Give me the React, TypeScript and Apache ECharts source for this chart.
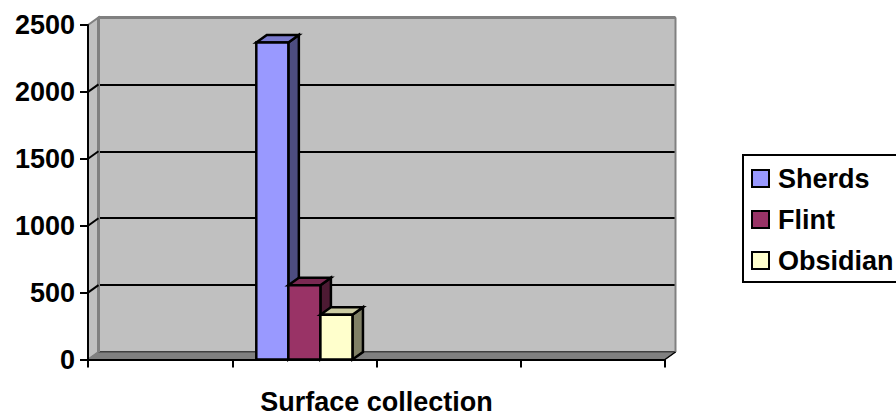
import React, { useEffect, useRef } from "react";
import * as echarts from "echarts";

const categories = ["", "Surface collection", "", ""];
const axisTitle = "Surface collection";
const sherds = [null, 2370, null, null];
const flint = [null, 555, null, null];
const obsidian = [null, 335, null, null];
const gridValues = [500, 1000, 1500, 2000];
const seriesNames = ["Sherds", "Flint", "Obsidian"];

const FONT = "'Liberation Sans', Arial, sans-serif";
const DX = 10.5;
const DY = -7.5;
const FRONT = { left: 88, top: 25, width: 577, height: 334.5 };

const palette = [
  { front: "#9999ff", side: "#4d4d80", top: "#7a7acc" },
  { front: "#993366", side: "#4d1a33", top: "#7a2952" },
  { front: "#ffffcc", side: "#808066", top: "#cccca3" },
];

function bar3d(index: number) {
  return (params: any, api: any) => {
    const value = api.value(1);
    if (value == null || isNaN(value)) return null;
    const base = api.coord([api.value(0), 0]);
    const tip = api.coord([api.value(0), value]);
    const w = api.size([1, 0])[0] / 4.5;
    const x0 = base[0] - 1.5 * w + index * w;
    const x1 = x0 + w;
    const yb = base[1];
    const yt = tip[1];
    const c = palette[index];
    const stroke = { stroke: "#000", lineWidth: 2.5, lineJoin: "miter" };
    return {
      type: "group",
      children: [
        { type: "polygon", shape: { points: [[x1, yb], [x1 + DX, yb + DY], [x1 + DX, yt + DY], [x1, yt]] }, style: { fill: c.side, ...stroke } },
        { type: "polygon", shape: { points: [[x0, yt], [x0 + DX, yt + DY], [x1 + DX, yt + DY], [x1, yt]] }, style: { fill: c.top, ...stroke } },
        { type: "rect", shape: { x: x0, y: yt, width: w, height: yb - yt }, style: { fill: c.front, ...stroke } },
      ],
    };
  };
}

function chamber(params: any, api: any) {
  const cs = params.coordSys;
  const l = cs.x;
  const r = cs.x + cs.width;
  const t = cs.y;
  const b = cs.y + cs.height;
  const lines = gridValues.map((v) => {
    const y = api.coord([0, v])[1];
    return {
      type: "line",
      shape: { x1: l, y1: y, x2: l + DX, y2: y + DY },
      style: { stroke: "#000", lineWidth: 2 },
    };
  });
  return {
    type: "group",
    children: [
      { type: "polygon", shape: { points: [[l, t], [l + DX, t + DY], [l + DX, b + DY], [l, b]] }, style: { fill: "#c0c0c0", stroke: "#808080", lineWidth: 2 } },
      { type: "polygon", shape: { points: [[l, b], [l + DX, b + DY], [r + DX, b + DY], [r, b]] }, style: { fill: "#808080", stroke: "#808080", lineWidth: 1 } },
      { type: "line", shape: { x1: l + DX, y1: b + DY, x2: r + DX, y2: b + DY }, style: { stroke: "#404040", lineWidth: 1 } },
      { type: "line", shape: { x1: l + DX, y1: t + DY, x2: r + DX, y2: t + DY }, style: { stroke: "#808080", lineWidth: 3 } },
      { type: "line", shape: { x1: l + DX, y1: t + DY, x2: l + DX, y2: b + DY }, style: { stroke: "#808080", lineWidth: 3 } },
      { type: "line", shape: { x1: r + DX, y1: t + DY, x2: r + DX, y2: b + DY }, style: { stroke: "#808080", lineWidth: 2 } },
      { type: "line", shape: { x1: r + DX, y1: b + DY, x2: r, y2: b }, style: { stroke: "#000", lineWidth: 1.5 } },
      ...lines,
    ],
  };
}

export default function App() {
  const ref = useRef<HTMLDivElement>(null);
  useEffect(() => {
    const chart = echarts.init(ref.current!, null, { renderer: "svg" });
    const seriesData = [sherds, flint, obsidian];
    chart.setOption({
      animation: false,
      backgroundColor: "#fff",
      textStyle: { fontFamily: FONT },
      legend: {
        left: 743,
        top: 155,
        orient: "vertical",
        width: 170,
        padding: [10, 30, 8, 8],
        itemWidth: 17,
        itemHeight: 17,
        itemGap: 14,
        borderColor: "#000",
        borderWidth: 2,
        backgroundColor: "#fff",
        textStyle: { fontFamily: FONT, fontWeight: "bold", fontSize: 27, color: "#000", padding: [0, 0, 0, 4] },
        data: seriesNames.map((name, i) => ({
          name,
          icon: "rect",
          itemStyle: { color: palette[i].front, borderColor: "#000", borderWidth: 2 },
        })),
      },
      grid: [
        { ...FRONT, outerBoundsMode: "none" },
        {
          left: FRONT.left + DX,
          top: FRONT.top + DY,
          width: FRONT.width,
          height: FRONT.height,
          show: true,
          backgroundColor: "#c0c0c0",
          borderWidth: 0,
          outerBoundsMode: "none",
        },
      ],
      xAxis: [
        {
          type: "category",
          gridIndex: 0,
          data: categories,
          name: axisTitle,
          nameLocation: "middle",
          nameGap: 31,
          nameTextStyle: { fontFamily: FONT, fontWeight: "bold", fontSize: 27, lineHeight: 22, color: "#000" },
          axisLine: { show: true, lineStyle: { color: "#000", width: 2 } },
          axisTick: { show: true, length: 8, lineStyle: { color: "#000", width: 2 } },
          axisLabel: { show: false },
          z: 5,
        },
        { type: "category", gridIndex: 1, data: categories, show: false },
      ],
      yAxis: [
        {
          type: "value",
          gridIndex: 0,
          min: 0,
          max: 2500,
          interval: 500,
          axisLine: { show: true, lineStyle: { color: "#000", width: 2 } },
          axisTick: { show: true, length: 8, lineStyle: { color: "#000", width: 2 } },
          axisLabel: { fontFamily: FONT, fontWeight: "bold", fontSize: 27, color: "#000", margin: 13, formatter: (v: number) => String(v) },
          splitLine: { show: false },
          z: 5,
        },
        {
          type: "value",
          gridIndex: 1,
          min: 0,
          max: 2500,
          interval: 500,
          axisLine: { show: false },
          axisTick: { show: false },
          axisLabel: { show: false },
          splitLine: { show: true, lineStyle: { color: "#000", width: 2, type: "solid" } },
        },
      ],
      series: [
        {
          type: "custom",
          name: "chamber",
          xAxisIndex: 0,
          yAxisIndex: 0,
          data: [[0, 0]],
          silent: true,
          clip: false,
          z: 1,
          renderItem: chamber,
        },
        ...seriesNames.map((name, i) => ({
          type: "custom",
          name,
          xAxisIndex: 0,
          yAxisIndex: 0,
          clip: false,
          z: 3 + i,
          itemStyle: { color: palette[i].front, borderColor: "#000", borderWidth: 2 },
          encode: { x: 0, y: 1 },
          data: seriesData[i].map((v, k) => [k, v]),
          renderItem: bar3d(i),
        })),
      ],
    });
    return () => chart.dispose();
  }, []);
  return (
    <div
      ref={ref}
      style={{ position: "fixed", left: 0, top: 0, width: 896, height: 417 }}
    />
  );
}
